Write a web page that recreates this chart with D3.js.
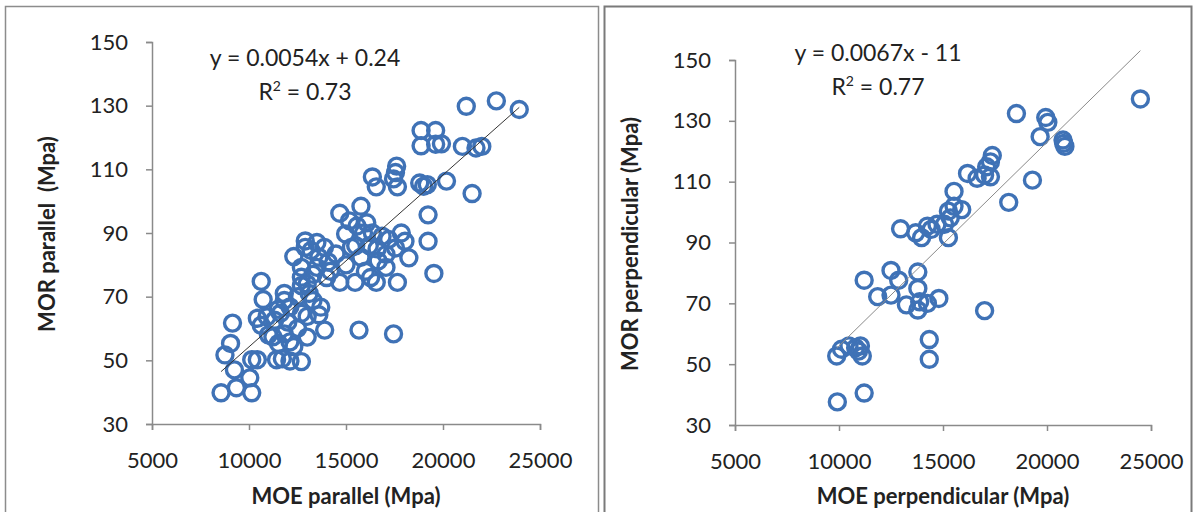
<!DOCTYPE html>
<html><head><meta charset="utf-8">
<script src="https://cdn.jsdelivr.net/npm/d3@7"></script>
<style>body{margin:0;background:#fff}svg{display:block}</style>
</head><body>
<svg id="c" width="1196" height="512"></svg>
<script>
// Left panel: MOE parallel vs MOR parallel
const parX = [21200,22750,23930,18870,19620,18870,19620,19920,21000,21700,22000,21500,20180,18800,19190,19000,
  17610,17550,17450,17650,16360,16560,19230,19230,19530,17450,15670,14680,15770,15180,15570,14980,16070,16360,
  16860,17850,18040,18240,17550,17060,16660,17060,17650,16560,16270,15470,14680,15770,15280,14480,14080,13600,
  13890,13500,12900,12900,13200,12310,13500,12700,12700,12700,13100,13300,13700,13600,13000,12700,12110,11820,
  11820,11620,11320,10930,10630,10730,10430,10630,11230,11520,11820,12110,12310,11720,12110,11420,12700,13000,
  13900,10430,10140,10040,10140,9350,9250,9050,9150,8760,8560,
  14200,15000,15500,16200,16600,17200,16000,14000,13000,12500,11500,12000,12500,11000,13300,15900];
const parY = [129.8,131.5,128.8,122.2,122.2,117.4,117.9,118,117.2,116.7,117.2,102.4,106.3,105.7,105.2,104.7,
  111,109,107,104.5,107.6,104.5,95.7,87.4,77.3,58.3,59.5,96.2,98.4,93.8,92.2,89.7,93.2,90,
  89,90,87.4,82.2,85.3,83.3,81.2,79.2,74.5,74.5,76,74.5,74.5,82.4,85.5,83.4,80.9,82.4,
  85.5,87,87.5,85.5,84.5,82.6,79.2,79.2,76.1,73.5,71,68.8,66.7,64.3,63.8,64.8,66.8,71,
  68.8,64.8,62.6,63.7,74.8,69.1,63.2,61,57.4,55.3,58.3,55.8,54.3,50.5,49.8,50.2,49.6,57.3,
  59.5,50.2,50.2,44.5,39.8,41.4,47,55.3,61.7,51.7,39.8,
  78,80,86,86,85,88,78,76,74,70,66,62,60,58,77,90];
// Right panel: MOE perpendicular vs MOR perpendicular
const perX = [24490,18530,19940,20040,19670,20770,20860,20800,19300,18160,17370,17280,17100,17000,17280,16640,
  16180,15530,15900,15530,15260,15350,15070,14710,14430,14250,15260,13970,13690,12960,13790,12500,12870,11210,
  11860,12500,13240,13790,13880,13790,14800,14250,17000,14340,14340,9890,10120,10480,10800,11030,11120,10940,
  9920,11210];
const perY = [137.2,132.4,131.1,129.5,124.8,123.7,121.6,122.6,110.5,103.2,118.6,116.5,114.9,112.2,111.6,111.1,
  112.7,106.8,100.8,101.9,100.3,98.1,96,96,94.3,95.4,91.6,91.6,93.2,94.5,80.3,80.8,77.6,77.6,
  72.2,72.7,69.5,74.9,70.5,67.8,71.6,70,67.6,58.1,51.6,52.7,54.9,56,55.4,56,52.7,54.3,
  37.6,40.5];
const xTicks = [5000,10000,15000,20000,25000];
const yTicks = [30,50,70,90,110,130,150];

const svg = d3.select("#c");
const FONT = "Lato, 'Open Sans', sans-serif";

// panel frames
svg.append("rect").attr("x",5.5).attr("y",6.5).attr("width",593).attr("height",520)
  .attr("fill","none").attr("stroke","#8c8c8c").attr("stroke-width",1.5);
svg.append("rect").attr("x",604.5).attr("y",6.5).attr("width",587).attr("height",520)
  .attr("fill","none").attr("stroke","#7a7a7a").attr("stroke-width",2);

function panel(cfg){
  const x = d3.scaleLinear().domain([5000,25000]).range([cfg.x0,cfg.x1]);
  const y = d3.scaleLinear().domain([30,150]).range([cfg.y0,cfg.y1]);
  const g = svg.append("g");
  const ax = g.append("g").attr("transform",`translate(0,${cfg.y0})`)
    .call(d3.axisBottom(x).tickValues(xTicks).tickSize(6).tickPadding(22).tickFormat(d3.format("d")));
  const ay = g.append("g").attr("transform",`translate(${cfg.x0},0)`)
    .call(d3.axisLeft(y).tickValues(yTicks).tickSize(6).tickPadding(18).tickFormat(d3.format("d")));
  [ax,ay].forEach(a=>{
    a.select(".domain").attr("stroke","#8a8a8a").attr("stroke-width",1.5);
    a.selectAll(".tick line").attr("stroke","#8a8a8a").attr("stroke-width",1.5);
    a.selectAll(".tick text").attr("fill","#222").style("font-family",FONT).style("font-size","22px");
  });
  // points
  g.append("g").selectAll("circle").data(cfg.xs.map((v,i)=>[v,cfg.ys[i]])).join("circle")
    .attr("cx",d=>x(d[0])).attr("cy",d=>y(d[1])).attr("r",8)
    .attr("fill","none").attr("stroke","#3f72b6").attr("stroke-width",3.4);
  // trendline
  const xmin = d3.min(cfg.xs), xmax = d3.max(cfg.xs);
  g.append("line").attr("x1",x(xmin)).attr("y1",y(cfg.m*xmin+cfg.b))
    .attr("x2",x(xmax)).attr("y2",y(cfg.m*xmax+cfg.b))
    .attr("stroke",cfg.lineColor).attr("stroke-width",1);
  // equation
  g.append("text").attr("x",cfg.eqX).attr("y",cfg.eqY).attr("text-anchor","middle")
    .style("font-family",FONT).style("font-size","23px").attr("fill","#222").text(cfg.eq);
  const r = g.append("text").attr("x",cfg.eqX).attr("y",cfg.eqY+34).attr("text-anchor","middle")
    .style("font-family",FONT).style("font-size","23px").attr("fill","#222");
  r.append("tspan").text("R");
  r.append("tspan").attr("dy",-9).style("font-size","14px").text("2");
  r.append("tspan").attr("dy",9).text(" = "+cfg.r2);
  // axis titles
  g.append("text").attr("x",(cfg.x0+cfg.x1)/2).attr("y",504).attr("text-anchor","middle")
    .style("font-family",FONT).style("font-size","22px").style("font-weight","bold").attr("fill","#222")
    .text(cfg.xTitle);
  g.append("text").attr("transform",`translate(${cfg.ytX},${cfg.ytY}) rotate(-90)`).attr("text-anchor","middle")
    .style("font-family",FONT).style("font-size","22px").style("font-weight","bold").attr("fill","#222")
    .style("white-space","pre").text(cfg.yTitle);
}

panel({x0:152,x1:540,y0:424,y1:42,xs:parX,ys:parY,m:0.0054,b:0.24,lineColor:"#333",
  eq:"y = 0.0054x + 0.24",r2:"0.73",eqX:305,eqY:66,xTitle:"MOE parallel (Mpa)",
  yTitle:"MOR parallel  (Mpa)",ytX:55,ytY:234});
panel({x0:735,x1:1151,y0:425,y1:60,xs:perX,ys:perY,m:0.0067,b:-11,lineColor:"#8a8a8a",
  eq:"y = 0.0067x - 11",r2:"0.77",eqX:878,eqY:61,xTitle:"MOE perpendicular (Mpa)",
  yTitle:"MOR perpendicular (Mpa)",ytX:638,ytY:244});
</script>
</body></html>
